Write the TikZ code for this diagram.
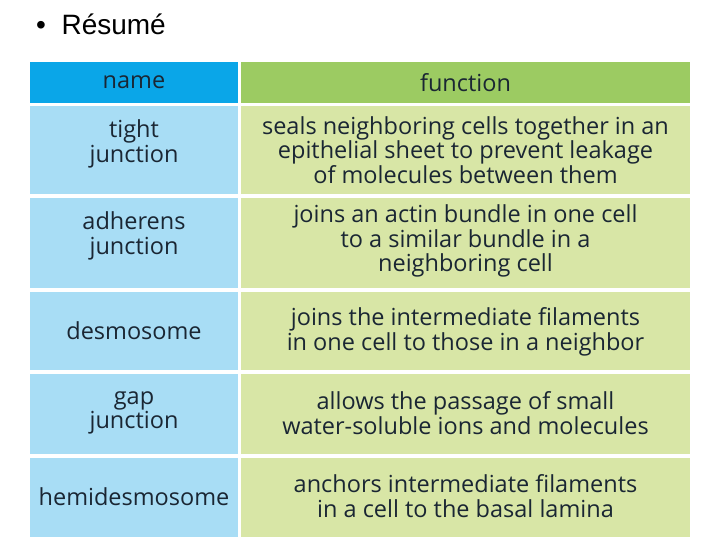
\documentclass[tikz,border=0pt]{standalone}
\usepackage{fontspec}
\setmainfont{Liberation Sans}
\newfontfamily\cellfont{Open Sans}
\definecolor{hb}{HTML}{0AA6E8}
\definecolor{lb}{HTML}{A8DDF5}
\definecolor{hg}{HTML}{9CCB62}
\definecolor{lg}{HTML}{D8E6A6}
\definecolor{tx}{HTML}{1A2633}
\begin{document}
\begin{tikzpicture}[x=1pt,y=-1pt,
  cell/.style={inner sep=0pt,text=tx,align=center,font=\cellfont\fontsize{23.5}{24.5}\selectfont}]
\useasboundingbox (0,0) rectangle (720,540);
\node[anchor=west,font=\fontsize{28}{30}\selectfont,inner sep=0pt] (title) at (36,24) {•\ \ Résumé};
\fill[hb] (30,62) rectangle (238,103);
\fill[hg] (241,62) rectangle (690,103);
\foreach \a/\b in {106/194,198/288,292/370,374/454,458/537}{
  \fill[lb] (30,\a) rectangle (238,\b);
  \fill[lg] (241,\a) rectangle (690,\b);
}
\node[cell] (h1) at (134,82.5) {name};
\node[cell] (h2) at (465.5,82.5) {function};
\node[cell] (n1) at (134,144) {tight\\junction};
\node[cell] (f1) at (465.5,150) {seals neighboring cells together in an\\epithelial sheet to prevent leakage\\of molecules between them};
\node[cell] (n2) at (134,236) {adherens\\junction};
\node[cell] (f2) at (465.5,241) {joins an actin bundle in one cell\\to a similar bundle in a\\neighboring cell};
\node[cell] (n3) at (134,331) {desmosome};
\node[cell] (f3) at (465.5,332) {joins the intermediate filaments\\in one cell to those in a neighbor};
\node[cell] (n4) at (134,413) {gap\\junction};
\node[cell] (f4) at (465.5,413) {allows the passage of small\\water-soluble ions and molecules};
\node[cell] (n5) at (134,497) {hemidesmosome};
\node[cell] (f5) at (465.5,496) {anchors intermediate filaments\\in a cell to the basal lamina};
\end{tikzpicture}
\end{document}
